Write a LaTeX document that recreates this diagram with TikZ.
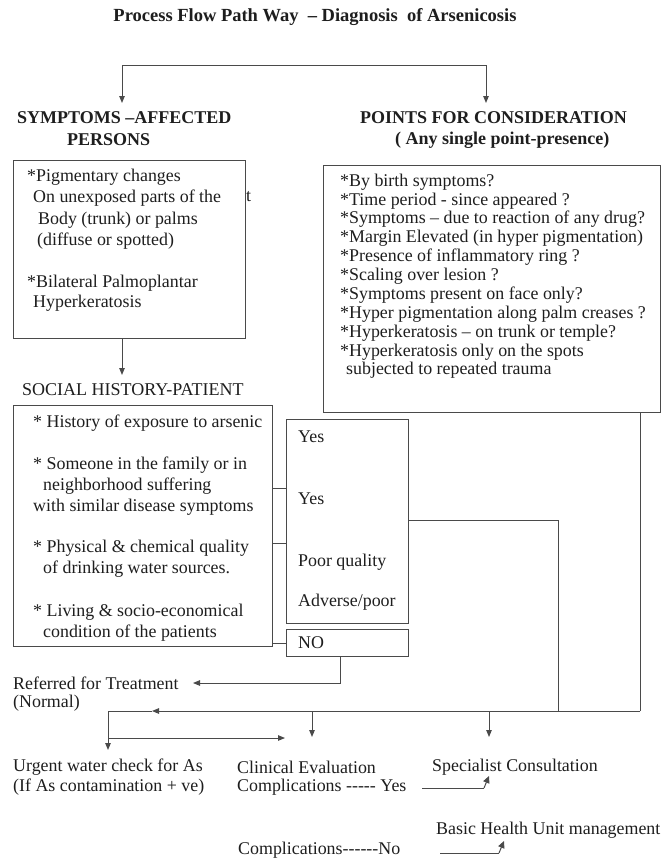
\documentclass[tikz,border=0pt]{standalone}
\usepackage{fontspec}
\setmainfont{Liberation Serif}
\usetikzlibrary{arrows.meta}
\definecolor{ln}{HTML}{4A4A4A}
\definecolor{tx}{HTML}{1E1E1E}
\newcommand\hyf{-\kern0pt}
\begin{document}
\begin{tikzpicture}[x=1pt,y=-1pt,
  boxst/.style={draw=ln, line width=1pt, inner sep=0pt, anchor=north west},
  txt/.style={font=\fontsize{17.9}{19.5}\selectfont, text=tx, inner sep=0pt, anchor=west},
  hd/.style={font=\fontsize{18}{20}\selectfont\bfseries, text=tx, inner sep=0pt, anchor=west},
  conn/.style={draw=ln, line width=1pt},
  arr/.style={conn, -{Triangle[length=7pt,width=5.5pt]}},
  hook/.style={conn, -{Triangle[length=7pt,width=6.5pt]}}
]
\useasboundingbox[fill=white] (0,0) rectangle (662,860);

% title and headings
\node[hd, anchor=center, font=\fontsize{18.5}{20}\selectfont\bfseries] (title) at (315,17) {Process Flow Path Way\ \ – Diagnosis\ \ of Arsenicosis};
\node[hd] (hsym1) at (17,118) {SYMPTOMS –AFFECTED};
\node[hd] (hsym2) at (67,140) {PERSONS};
\node[hd] (hpts1) at (360,118) {POINTS FOR CONSIDERATION};
\node[hd] (hpts2) at (395,140) {( Any single point-presence)};
\node[txt, font=\fontsize{18}{20}\selectfont] (hsoc) at (22,390) {SOCIAL HISTORY-PATIENT};

% boxes
\node[boxst, minimum width=232pt, minimum height=178pt] (b1) at (13,160) {};
\node[boxst, minimum width=337pt, minimum height=247pt] (b2) at (323,165) {};
\node[boxst, minimum width=259pt, minimum height=241pt] (b3) at (13,405) {};
\node[boxst, minimum width=122pt, minimum height=204pt] (yb) at (286,419) {};
\node[boxst, minimum width=122pt, minimum height=27pt] (nb) at (286,629) {};

% box 1 text
\foreach \t/\x/\y [count=\i] in {
  {*Pigmentary changes}/27/177,
  {On unexposed parts of the}/33/198,
  {Body (trunk) or palms}/38/220,
  {(diffuse or spotted)}/37/241,
  {*Bilateral Palmoplantar}/27/283,
  {Hyperkeratosis}/33/303}
  \node[txt] (ba\i) at (\x,\y) {\t};
\node[txt] (strayt) at (246,197) {t};

% box 2 text
\foreach \t/\x/\y [count=\i] in {
  {*By birth symptoms?}/340/182,
  {*Time period - since appeared ?}/340/201,
  {*Symptoms – due to reaction of any drug?}/340/219,
  {*Margin Elevated (in hyper pigmentation)}/340/238,
  {*Presence of inflammatory ring ?}/340/257,
  {*Scaling over lesion ?}/340/276,
  {*Symptoms present on face only?}/340/295,
  {*Hyper pigmentation along palm creases ?}/340/314,
  {*Hyperkeratosis – on trunk or temple?}/340/333,
  {*Hyperkeratosis only on the spots}/340/352,
  {subjected to repeated trauma}/346/370}
  \node[txt] (bb\i) at (\x,\y) {\t};

% box 3 text
\foreach \t/\x/\y [count=\i] in {
  {* History of exposure to arsenic}/33/423,
  {* Someone in the family or in}/33/465,
  {neighborhood suffering}/43/486,
  {with similar disease symptoms}/33/507,
  {* Physical \& chemical quality}/33/548,
  {of drinking water sources.}/43/569,
  {* Living \& socio-economical}/33/612,
  {condition of the patients}/43/633}
  \node[txt] (bc\i) at (\x,\y) {\t};

% yes / no box text
\foreach \t/\y [count=\i] in {Yes/437, Yes/499, {Poor quality}/562, {Adverse/poor}/602, NO/643}
  \node[txt] (yt\i) at (298,\y) {\t};

% bottom texts
\node[txt] (ref1) at (13,683) {Referred for Treatment};
\node[txt] (ref2) at (13,703) {(Normal)};
\node[txt] (urg1) at (13,767) {Urgent water check for As};
\node[txt] (urg2) at (13,787) {(If As contamination + ve)};
\node[txt] (cli1) at (237,767) {Clinical Evaluation};
\node[txt] (cli2) at (237,787) {Complications \hyf\hyf\hyf\hyf- Yes};
\node[txt] (spec) at (432,767) {Specialist Consultation};
\node[txt] (bhu) at (436,830) {Basic Health Unit management};
\node[txt] (cno) at (238,850) {Complications\hyf\hyf\hyf\hyf\hyf-No};

% connectors
\coordinate (tl) at (122,65);
\coordinate (tr) at (486,65);
\coordinate (tlt) at (122,103);
\coordinate (trt) at (486,103);
\draw[conn] (tl) -- (tr);
\draw[arr] (tl) -- (tlt);
\draw[arr] (tr) -- (trt);

\coordinate (b1a) at (122,375);
\draw[arr] (b1.south -| b1a) -- (b1a);

\draw[conn] (b3.east |- 0,488) -- (yb.west |- 0,488);
\draw[conn] (b3.east |- 0,543) -- (yb.west |- 0,543);
\draw[conn] (b3.east |- nb.west) -- (nb.west);

\coordinate (ya) at (558,520);
\coordinate (yd) at (558,711);
\draw[conn] (yb.east |- ya) -- (ya) -- (yd);

\coordinate (pr) at (640,711);
\draw[conn] (b2.south -| pr) -- (pr);
\coordinate (lm) at (152,711);
\coordinate (ll) at (108,711);
\draw[arr] (pr) -- (lm);
\draw[conn] (lm) -- (ll);

\coordinate (nbc) at (340,683);
\coordinate (rt) at (193,683);
\draw[arr] (nb.south -| nbc) -- (nbc) -- (rt);

\coordinate (ut) at (108,750);
\draw[arr] (ll) -- (ut);
\coordinate (bs) at (108,738);
\coordinate (bt) at (285,738);
\draw[arr] (bs) -- (bt);

\coordinate (cs) at (312,711);
\coordinate (ct) at (312,737);
\draw[arr] (cs) -- (ct);
\coordinate (ss) at (489,711);
\coordinate (st) at (489,737);
\draw[arr] (ss) -- (st);

\coordinate (ya1) at (422,788);
\coordinate (ya2) at (484,788);
\coordinate (ya3) at (489,776);
\draw[conn] (ya1) -- (ya2);
\draw[hook] (ya2) -- (ya3);

\coordinate (na1) at (440,853);
\coordinate (na2) at (499,853);
\coordinate (na3) at (504,841);
\draw[conn] (na1) -- (na2);
\draw[hook] (na2) -- (na3);
\end{tikzpicture}
\end{document}
